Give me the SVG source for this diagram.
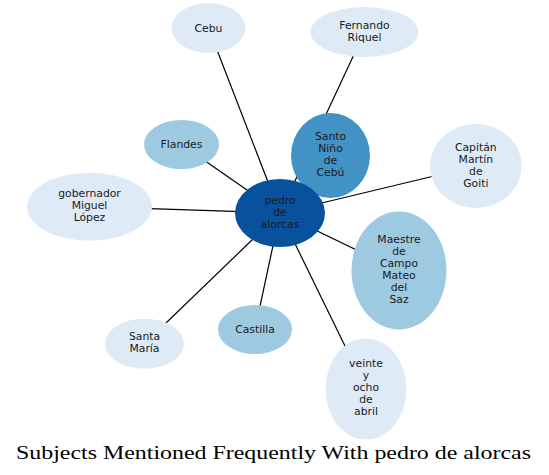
<svg xmlns="http://www.w3.org/2000/svg" width="549" height="475" viewBox="0 0 549 475">
<style>
.e{stroke:#000;stroke-width:1.2;fill:none}
.t{font-family:"DejaVu Sans",sans-serif;font-size:10.8px;fill:#1a1a1a;text-anchor:middle}
.c1{fill:#deebf7}.c2{fill:#9ecae1}.c3{fill:#4292c6}.c4{fill:#08519c}
.title{font-family:"Liberation Serif",serif;font-size:18px;fill:#000;text-anchor:middle}
</style>
<rect width="549" height="475" fill="#fff"/>
<g id="edges">
<line class="e" x1="280" y1="213" x2="208.5" y2="28"/>
<line class="e" x1="280" y1="213" x2="364.5" y2="32"/>
<line class="e" x1="280" y1="213" x2="330.5" y2="155.5"/>
<line class="e" x1="280" y1="213" x2="475.8" y2="166"/>
<line class="e" x1="280" y1="213" x2="181.5" y2="144.5"/>
<line class="e" x1="280" y1="213" x2="89.5" y2="206.7"/>
<line class="e" x1="280" y1="213" x2="399" y2="270.5"/>
<line class="e" x1="280" y1="213" x2="144.5" y2="343.7"/>
<line class="e" x1="280" y1="213" x2="255" y2="329.5"/>
<line class="e" x1="280" y1="213" x2="366" y2="389"/>
</g>
<g id="cebu"><ellipse class="c1" cx="208.5" cy="28" rx="37" ry="25"/><text class="t" x="208.5" y="32">Cebu</text></g>
<g id="fernando"><ellipse class="c1" cx="364.5" cy="32" rx="54" ry="25"/><text class="t" x="364.5" y="29">Fernando<tspan x="364.5" dy="12">Riquel</tspan></text></g>
<g id="santonino"><ellipse class="c3" cx="330.5" cy="155.5" rx="39.5" ry="42.5"/><text class="t" x="330.5" y="140">Santo<tspan x="330.5" dy="12">Niño</tspan><tspan x="330.5" dy="12">de</tspan><tspan x="330.5" dy="12">Cebú</tspan></text></g>
<g id="capitan"><ellipse class="c1" cx="475.8" cy="166" rx="45.8" ry="42"/><text class="t" x="475.8" y="151">Capitán<tspan x="475.8" dy="12">Martín</tspan><tspan x="475.8" dy="12">de</tspan><tspan x="475.8" dy="12">Goiti</tspan></text></g>
<g id="flandes"><ellipse class="c2" cx="181.5" cy="144.5" rx="37.5" ry="24.5"/><text class="t" x="181.5" y="147.5">Flandes</text></g>
<g id="gobernador"><ellipse class="c1" cx="89.5" cy="206.7" rx="62.5" ry="34"/><text class="t" x="89.5" y="197">gobernador<tspan x="89.5" dy="12">Miguel</tspan><tspan x="89.5" dy="12">López</tspan></text></g>
<g id="center"><ellipse class="c4" cx="280" cy="213" rx="45" ry="34"/><text class="t" x="280" y="204">pedro<tspan x="280" dy="12">de</tspan><tspan x="280" dy="12">alorcas</tspan></text></g>
<g id="maestre"><ellipse class="c2" cx="399" cy="270.5" rx="47.5" ry="59"/><text class="t" x="399" y="243">Maestre<tspan x="399" dy="12">de</tspan><tspan x="399" dy="12">Campo</tspan><tspan x="399" dy="12">Mateo</tspan><tspan x="399" dy="12">del</tspan><tspan x="399" dy="12">Saz</tspan></text></g>
<g id="santamaria"><ellipse class="c1" cx="144.5" cy="343.7" rx="39.5" ry="25"/><text class="t" x="144.5" y="340">Santa<tspan x="144.5" dy="12">María</tspan></text></g>
<g id="castilla"><ellipse class="c2" cx="255" cy="329.5" rx="37" ry="24.5"/><text class="t" x="255" y="332.5">Castilla</text></g>
<g id="veinte"><ellipse class="c1" cx="366" cy="389" rx="40.5" ry="50.5"/><text class="t" x="366" y="367">veinte<tspan x="366" dy="12">y</tspan><tspan x="366" dy="12">ocho</tspan><tspan x="366" dy="12">de</tspan><tspan x="366" dy="12">abril</tspan></text></g>
<text class="title" x="273.5" y="459" textLength="515" lengthAdjust="spacingAndGlyphs">Subjects Mentioned Frequently With pedro de alorcas</text>
</svg>
